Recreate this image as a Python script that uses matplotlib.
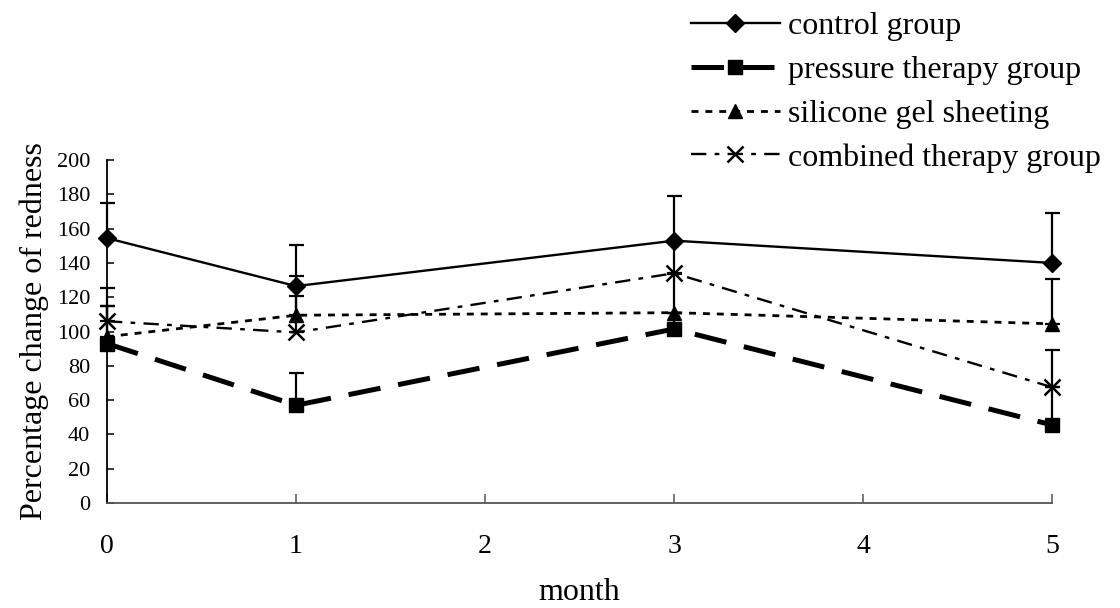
import matplotlib
matplotlib.use("Agg")
import matplotlib.pyplot as plt

months = [0, 1, 3, 5]
labels = ["control group", "pressure therapy group",
          "silicone gel sheeting", "combined therapy group"]

control = [154.5, 126.5, 153, 140]
pressure = [93, 57, 101.5, 45.5]
silicone = [97, 109.5, 111, 104.5]
combined = [106, 99.5, 134, 67.5]

# upper error bars only (SD)
control_err = [20.5, 24, 26, 29]
pressure_err = [22, 19, 9.5, 22]
silicone_err = [28.5, 11, 22.5, 26]
combined_err = [9, 33, 19, 21.5]

plt.rcParams["font.family"] = ["Liberation Serif", "DejaVu Serif"]

fig = plt.figure(figsize=(11.2, 6.08), dpi=100)
ax = fig.add_axes([0.0955, 0.1727, 0.844, 0.564])

series = [
    (control, control_err, dict(ls="-", lw=1.7, marker="D", ms=9.5)),
    (pressure, pressure_err, dict(ls=(0, (6.5, 3.6)), lw=3.6, marker="s", ms=10)),
    (silicone, silicone_err, dict(ls=(0, (2.5, 2.5)), lw=2.0, marker="^", ms=10)),
    (combined, combined_err, dict(ls=(0, (6.5, 3.5, 2, 3.5)), lw=1.7, marker="x", ms=12, mew=1.8)),
]

handles = []
for (vals, err, style), lab in zip(series, labels):
    ax.errorbar(months, vals, yerr=[[0] * len(err), err], fmt="none",
                ecolor="black", elinewidth=1.6, capsize=5.4, capthick=1.6,
                clip_on=False)
    h, = ax.plot(months, vals, color="black", label=lab, clip_on=False, **style)
    handles.append(h)

ax.set_xlim(0, 5)
ax.set_ylim(0, 200)
ax.set_xticks(range(6))
ax.set_yticks(range(0, 201, 20))
ax.spines["top"].set_visible(False)
ax.spines["right"].set_visible(False)
ax.spines["left"].set_linewidth(1.3)
ax.spines["bottom"].set_linewidth(1.3)
ax.spines["bottom"].set_color("#555555")
ax.tick_params(axis="y", direction="in", length=5, width=1.1, labelsize=16, pad=12)
ax.tick_params(axis="x", direction="in", length=6.5, width=1.1, color="#555555",
               labelsize=20, pad=22)
ax.set_xlabel("month", fontsize=23, labelpad=14)
ax.set_ylabel("Percentage change of redness", fontsize=23, labelpad=6)

fig.legend(handles=handles, loc="upper right", bbox_to_anchor=(1.0, 1.012),
           frameon=False, fontsize=23, handlelength=2.8, handletextpad=0.25,
           labelspacing=0.45, borderaxespad=0.2)

fig.savefig("out.png", dpi=100)
